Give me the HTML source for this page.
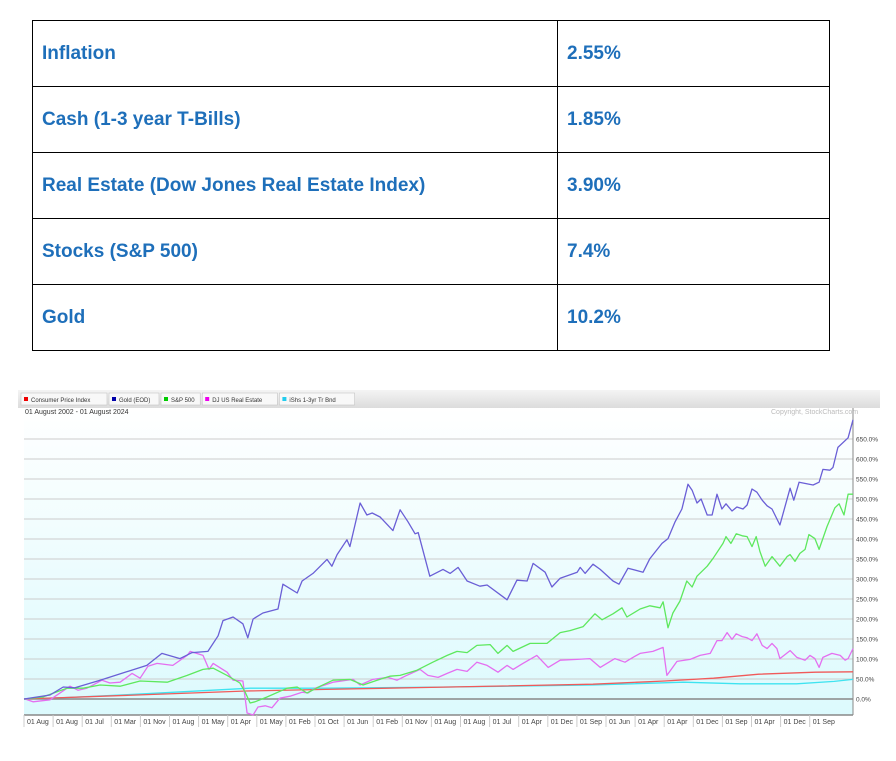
<!DOCTYPE html>
<html><head><meta charset="utf-8"><style>
body{margin:0;width:896px;height:761px;background:#fff;position:relative;overflow:hidden;font-family:"Liberation Sans",sans-serif}
table{position:absolute;left:32px;top:20px;border-collapse:collapse;width:798px}
td{border:1px solid #000;height:65px;padding:0 0 0 9px;color:#1e6fba;font-weight:bold;font-size:19px}
td.v{width:262px}
svg{position:absolute;left:0;top:0}
</style></head><body>
<table>
<tr><td>Inflation</td><td class="v">2.55%</td></tr>
<tr><td>Cash (1-3 year T-Bills)</td><td class="v">1.85%</td></tr>
<tr><td>Real Estate (Dow Jones Real Estate Index)</td><td class="v">3.90%</td></tr>
<tr><td>Stocks (S&amp;P 500)</td><td class="v">7.4%</td></tr>
<tr><td>Gold</td><td class="v">10.2%</td></tr>
</table>
<svg id="chart" width="896" height="761" font-family="Liberation Sans, sans-serif">
<defs>
<linearGradient id="bg" x1="0" y1="0" x2="0" y2="1"><stop offset="0" stop-color="#ffffff"/><stop offset="1" stop-color="#dcfafd"/></linearGradient>
<linearGradient id="lg" x1="0" y1="0" x2="0" y2="1"><stop offset="0" stop-color="#f4f4f4"/><stop offset="1" stop-color="#dcdcdc"/></linearGradient>
</defs>
<rect x="18" y="390" width="862" height="18" fill="url(#lg)"/>
<rect x="24" y="408" width="829" height="307" fill="url(#bg)"/>
<g id="legend"></g>
<text x="25" y="414" font-size="7" fill="#333">01 August 2002 - 01 August 2024</text>
<text x="771" y="414" font-size="7" fill="#bbb">Copyright, StockCharts.com</text>
<g id="grid"></g><g id="xaxis"></g><g id="series"></g>
</svg>
<script>
const yTicks=[0,50,100,150,200,250,300,350,400,450,500,550,600,650];
const xLabels=["Aug","Aug","Jul","Mar","Nov","Aug","May","Apr","May","Feb","Oct","Jun","Feb","Nov","Aug","Aug","Jul","Apr","Dec","Sep","Jun","Apr","Apr","Dec","Sep","Apr","Dec","Sep"];
const legendNames=["Consumer Price Index","Gold (EOD)","S&P 500","DJ US Real Estate","iShs 1-3yr Tr Bnd"];
const legendColors=["#e00","#00a","#0c0","#e0e","#2ce"];
// [years since Aug 2002, % change]
const gold=[[0,0],[.69,10],[1.04,30],[1.35,28],[2.02,47],[3.26,84],[3.66,114],[4.14,101],[4.46,116],[4.88,119],[5.15,158],[5.28,196],[5.55,205],[5.81,188],[5.94,153],[6.08,200],[6.34,215],[6.74,225],[6.87,287],[7.25,265],[7.38,295],[7.67,314],[8.04,349],[8.17,332],[8.31,361],[8.57,398],[8.65,381],[8.92,490],[9.10,460],[9.24,465],[9.45,455],[9.79,421],[9.98,473],[10.19,443],[10.38,413],[10.46,416],[10.77,307],[11.12,324],[11.31,314],[11.52,329],[11.76,295],[12.10,282],[12.29,285],[12.82,248],[13.08,297],[13.35,295],[13.51,339],[13.83,317],[14.01,280],[14.23,302],[14.68,317],[14.76,329],[14.89,314],[15.10,337],[15.29,324],[15.63,295],[15.79,287],[16.03,327],[16.43,317],[16.61,351],[16.93,389],[17.09,401],[17.28,443],[17.46,475],[17.62,537],[17.73,522],[17.86,490],[17.97,500],[18.13,460],[18.26,460],[18.39,512],[18.52,475],[18.63,488],[18.79,470],[18.92,480],[19.08,475],[19.19,485],[19.32,525],[19.45,517],[19.59,497],[19.72,483],[19.85,475],[20.06,435],[20.33,527],[20.43,497],[20.57,542],[20.94,535],[21.10,542],[21.20,574],[21.39,572],[21.47,579],[21.60,629],[21.87,653],[22.0,698]];
const sp500=[[.03,0],[.50,5],[1.14,27],[1.57,27],[2.02,35],[2.55,32],[3.08,45],[3.80,42],[4.33,59],[4.75,74],[5.02,77],[5.39,59],[5.73,40],[5.87,17],[6.00,-10],[6.13,-7],[6.45,5],[6.98,27],[7.25,30],[7.51,15],[7.86,32],[8.20,47],[8.65,49],[9.00,35],[9.37,47],[9.71,57],[9.98,59],[10.43,72],[10.85,92],[11.23,109],[11.49,119],[11.76,116],[12.02,134],[12.37,136],[12.58,114],[12.82,134],[12.98,119],[13.43,139],[13.88,139],[14.23,166],[14.49,171],[14.84,181],[15.15,213],[15.34,198],[15.63,213],[15.87,228],[16.00,205],[16.35,225],[16.61,233],[16.88,228],[16.96,243],[17.09,178],[17.22,215],[17.41,245],[17.59,295],[17.73,280],[17.86,307],[18.13,332],[18.29,352],[18.55,389],[18.63,406],[18.76,389],[18.90,413],[19.06,408],[19.19,406],[19.32,381],[19.43,406],[19.53,369],[19.67,332],[19.85,356],[20.06,332],[20.25,356],[20.33,361],[20.46,344],[20.59,364],[20.73,374],[20.83,411],[20.99,401],[21.10,374],[21.31,431],[21.52,478],[21.63,488],[21.76,460],[21.87,512],[22.0,512]];
const realEstate=[[.03,0],[.24,-7],[.69,-2],[1.22,32],[1.43,22],[1.67,27],[2.07,47],[2.28,40],[2.55,42],[2.87,64],[3.08,52],[3.29,82],[3.53,89],[3.95,84],[4.33,109],[4.41,119],[4.75,109],[4.91,74],[5.02,89],[5.39,67],[5.55,47],[5.81,45],[5.92,-35],[6.08,-40],[6.21,-20],[6.40,-17],[6.58,-22],[6.79,2],[7.06,7],[7.38,17],[7.54,15],[7.72,27],[8.20,42],[8.73,49],[8.92,35],[9.26,49],[9.66,54],[9.90,47],[10.11,57],[10.51,74],[10.72,59],[10.99,54],[11.23,64],[11.49,74],[11.76,69],[12.02,92],[12.29,84],[12.58,67],[12.82,84],[12.98,74],[13.24,89],[13.61,109],[13.91,79],[14.23,97],[14.68,99],[15.02,101],[15.29,79],[15.68,101],[15.95,92],[16.16,104],[16.35,114],[16.69,119],[16.96,129],[17.06,59],[17.33,94],[17.68,99],[17.94,109],[18.21,114],[18.39,146],[18.52,146],[18.66,166],[18.79,149],[18.90,163],[19.06,156],[19.19,153],[19.32,146],[19.45,163],[19.59,134],[19.72,126],[19.85,139],[19.98,126],[20.06,101],[20.33,121],[20.51,104],[20.73,97],[20.86,109],[20.99,101],[21.10,79],[21.20,104],[21.44,114],[21.66,109],[21.79,97],[21.87,101],[22.0,126]];
const cpi=[[0,0],[3,10],[5.9,20],[8,24],[11.3,30],[15.1,37],[17,45],[18.3,52],[19.5,62],[21,67],[22,68]];
const bonds=[[0,0],[1,3],[3,12],[5,22],[6,27],[8,27],[11.3,30],[15.1,35],[17.5,42],[19,38],[20.5,38],[21.5,44],[22,49]];

const NS="http://www.w3.org/2000/svg";
const X0=24,X1=853,Y0=699,PXPCT=0.4;
const xs=t=>X0+(t/22)*(X1-X0);
const ys=v=>Y0-v*PXPCT;
function mk(tag,attrs,parent){const e=document.createElementNS(NS,tag);for(const k in attrs)e.setAttribute(k,attrs[k]);parent.appendChild(e);return e;}
const grid=document.getElementById('grid');
yTicks.forEach(v=>{
  const l=mk('line',{x1:X0,x2:X1,y1:ys(v),y2:ys(v),stroke:v===0?'#888':'#ccc','stroke-width':v===0?1.5:1},grid);
  
  
  const t=mk('text',{x:X1+3,y:ys(v)+2.5,'font-size':6.5,fill:'#444'},grid);
  t.textContent=v.toFixed(1)+'%';
  
  
});
const ax=document.getElementById('xaxis');
const a1=mk('line',{x1:X0,x2:X1,y1:715,y2:715,stroke:'#888','stroke-width':1.5},ax);


const a2=mk('line',{x1:X1,x2:X1,y1:408,y2:715,stroke:'#888','stroke-width':1},ax);


const step=29.1;
xLabels.forEach((m,i)=>{
  const x=X0+i*step;
  const s=mk('line',{x1:x,x2:x,y1:715,y2:727,stroke:'#ccc'},ax);
  
  
  const t=mk('text',{x:x+3,y:724,'font-size':7,fill:'#444'},ax);
  t.textContent='01  '+m;
  
  
});
const lg=document.getElementById('legend');
let lx=21;
legendNames.forEach((n,i)=>{
  const w=n.length*3.6+14;
  const r=mk('rect',{x:lx,y:393,width:w,height:12,fill:'#f8f8f8',stroke:'#bbb','stroke-width':0.5},lg);
  
  
  const sw=mk('rect',{x:lx+3,y:397,width:4,height:4,fill:legendColors[i]},lg);
  
  
  const t=mk('text',{x:lx+10,y:402,'font-size':6,fill:'#333'},lg);
  t.textContent=n;
  
  
  lx+=w+2;
});
const sg=document.getElementById('series');
[[bonds,'#3fe3f0','bonds-line'],[cpi,'#f05a5a','cpi-line'],[realEstate,'#e46ff0','real-estate-line'],[sp500,'#5ee85e','sp500-line'],[gold,'#6a5fd6','gold-line']].forEach(([d,c,n])=>{
  const p=mk('polyline',{points:d.map(q=>xs(q[0]).toFixed(1)+','+ys(q[1]).toFixed(1)).join(' '),fill:'none',stroke:c,'stroke-width':1.3,'stroke-linejoin':'round'},sg);
  
  
});
</script>
</body></html>
